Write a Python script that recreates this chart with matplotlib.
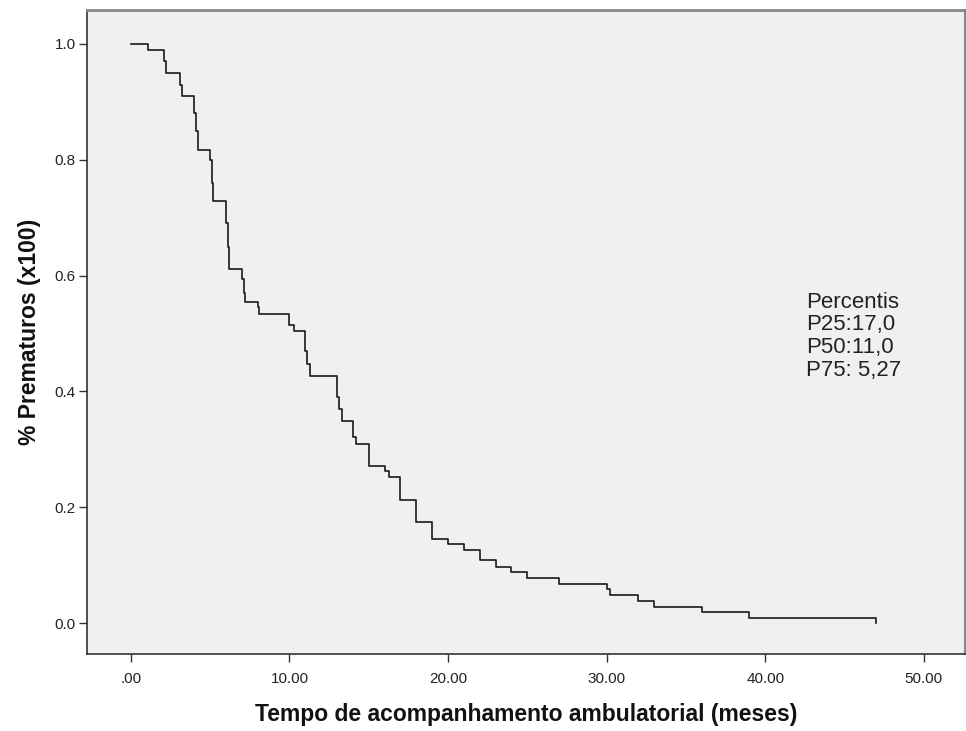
import matplotlib
matplotlib.use("Agg")
import matplotlib.pyplot as plt
import numpy as np

# Kaplan-Meier style step data (event times in months, survival after event)
times = [0.0, 1.1, 2.1, 2.2, 3.1, 3.2, 4.0, 4.1, 4.2, 4.25, 5.0, 5.1, 5.15,
         6.0, 6.1, 6.2, 7.0, 7.1, 7.2, 8.0, 8.1, 10.0, 10.3, 11.0, 11.1, 11.3,
         13.0, 13.1, 13.3, 14.0, 14.2, 15.0, 16.0, 16.3, 17.0, 18.0, 19.0,
         20.0, 21.0, 22.0, 23.0, 24.0, 25.0, 27.0, 30.0, 30.2, 32.0, 33.0,
         36.0, 39.0, 47.0]
surv = [1.0, 0.99, 0.97, 0.95, 0.93, 0.91, 0.88, 0.85, 0.83, 0.817, 0.80, 0.76, 0.729,
        0.69, 0.65, 0.611, 0.594, 0.57, 0.554, 0.545, 0.534, 0.515, 0.505, 0.47, 0.447, 0.427,
        0.39, 0.37, 0.349, 0.321, 0.31, 0.272, 0.262, 0.253, 0.212, 0.174, 0.145,
        0.136, 0.126, 0.108, 0.097, 0.088, 0.078, 0.068, 0.058, 0.048, 0.038, 0.028,
        0.019, 0.009, 0.0]

xticks = [0, 10, 20, 30, 40, 50]
xticklabels = [".00", "10.00", "20.00", "30.00", "40.00", "50.00"]
yticks = [0.0, 0.2, 0.4, 0.6, 0.8, 1.0]
yticklabels = ["0.0", "0.2", "0.4", "0.6", "0.8", "1.0"]

note_lines = ["Percentis", "P25:17,0", "P50:11,0", "P75: 5,27"]

plt.rcParams['font.family'] = ['Liberation Sans', 'DejaVu Sans']

fig = plt.figure(figsize=(9.66, 7.31), dpi=100)
ax = fig.add_axes([87/966, 1 - 654/731, (965 - 87)/966, (654 - 10)/731])
ax.set_facecolor("#f0f0f0")

ax.step(times, surv, where="post", color="#1a1a1a", lw=1.2)

ax.set_xlim(-2.77, 52.6)
ax.set_ylim(-0.0535, 1.0587)

ax.set_xticks(xticks)
ax.set_xticklabels(xticklabels)
ax.set_yticks(yticks)
ax.set_yticklabels(yticklabels)
ax.tick_params(axis="both", direction="out", length=6, width=1, color="#333333",
               labelsize=11, labelcolor="#222222")
ax.tick_params(axis="x", pad=7)
ax.tick_params(axis="y", pad=2)

for s in ["left", "bottom"]:
    ax.spines[s].set_color("#333333")
    ax.spines[s].set_linewidth(1.2)
ax.spines["top"].set_color("#888888")
ax.spines["top"].set_linewidth(2.0)
ax.spines["right"].set_color("#888888")
ax.spines["right"].set_linewidth(1.5)

ax.set_xlabel("Tempo de acompanhamento ambulatorial (meses)", fontsize=16.5,
              fontweight="bold", labelpad=12, color="#111111")
ax.set_ylabel("% Prematuros (x100)", fontsize=16.5, fontweight="bold",
              labelpad=10, color="#111111")

ax.text(42.6, 0.572, "\n".join(note_lines), fontsize=16, va="top", ha="left",
        color="#222222", linespacing=1.1)

fig.savefig("out.png", dpi=100, facecolor="white")
